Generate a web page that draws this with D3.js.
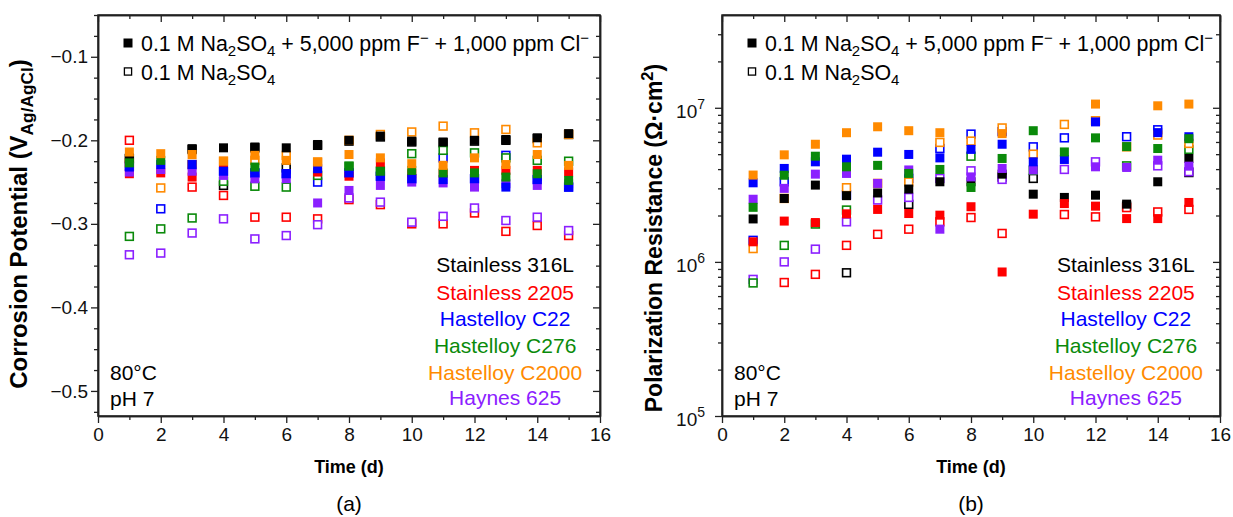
<!DOCTYPE html>
<html>
<head>
<meta charset="utf-8">
<script src="https://cdn.jsdelivr.net/npm/d3@7"></script>
<style>
  body { margin: 0; background: #fff; }
  svg text { font-family: "Liberation Sans", Arial, Helvetica, sans-serif; }
</style>
</head>
<body>
<svg id="fig" width="1233" height="517"></svg>
<script>
// ---- data ----
const days = [1, 2, 3, 4, 5, 6, 7, 8, 9, 10, 11, 12, 13, 14, 15];
const alloys = ["Stainless 316L", "Stainless 2205", "Hastelloy C22", "Hastelloy C276", "Hastelloy C2000", "Haynes 625"];
const alloyColors = ["#000000", "#ff0000", "#0000ff", "#0a8a0a", "#ff8a00", "#8b20ff"];

// corrosion potential (V vs Ag/AgCl), rows follow `alloys`
// filled: 0.1 M Na2SO4 + 5,000 ppm F- + 1,000 ppm Cl-
const ecorrMixed = [
  [-0.221, null, -0.210, -0.209, -0.208, -0.209, -0.205, -0.200, -0.195, -0.201, -0.202, -0.200, -0.199, -0.197, -0.192],
  [-0.240, -0.239, -0.244, -0.230, null, null, -0.238, -0.243, -0.227, -0.240, -0.240, -0.236, -0.236, -0.236, -0.238],
  [-0.232, -0.229, -0.229, -0.237, -0.239, -0.240, -0.234, -0.239, -0.243, -0.246, -0.247, -0.246, -0.256, -0.247, -0.256],
  [-0.227, -0.224, null, null, -0.232, null, null, -0.231, -0.237, -0.236, -0.239, -0.239, -0.244, -0.240, -0.248],
  [-0.214, -0.216, -0.217, -0.225, -0.218, -0.224, -0.226, -0.217, -0.221, -0.228, -0.230, -0.221, -0.229, -0.217, -0.230],
  [-0.238, -0.235, -0.237, -0.242, -0.246, -0.246, -0.275, -0.260, -0.254, -0.250, -0.251, -0.256, -0.252, -0.254, -0.252]
];
// open: 0.1 M Na2SO4
const ecorrSulfate = [
  [-0.222, null, -0.211, -0.254, -0.209, -0.233, -0.206, -0.201, -0.196, -0.202, -0.203, -0.201, -0.200, -0.198, -0.193],
  [-0.200, null, -0.256, -0.266, -0.292, -0.292, -0.294, -0.271, -0.277, -0.300, -0.300, -0.287, -0.309, -0.302, -0.314],
  [-0.231, -0.282, -0.229, -0.237, -0.239, -0.240, -0.250, -0.239, -0.243, -0.246, -0.221, -0.246, -0.218, -0.247, -0.256],
  [-0.315, -0.306, -0.293, -0.249, -0.255, -0.256, -0.242, -0.231, -0.237, -0.216, -0.212, -0.215, -0.221, -0.224, -0.225],
  [-0.227, -0.257, -0.229, -0.225, -0.224, -0.218, -0.226, -0.200, -0.193, -0.190, -0.183, -0.191, -0.187, -0.203, -0.193],
  [-0.337, -0.335, -0.311, -0.294, -0.318, -0.314, -0.301, -0.269, -0.274, -0.298, -0.291, -0.281, -0.296, -0.292, -0.308]
];

// polarization resistance (ohm cm2)
const rpMixed = [
  [1.90e6, 2.58e6, 3.15e6, 2.69e6, 2.80e6, 2.97e6, 3.31e6, 3.31e6, 3.71e6, 2.75e6, 2.62e6, 2.71e6, 2.37e6, 3.31e6, 4.69e6],
  [1.35e6, 1.84e6, 1.80e6, 2.05e6, 2.19e6, 2.06e6, 2.01e6, 2.28e6, 8.6e5, 2.04e6, 2.39e6, 2.30e6, 1.91e6, 1.91e6, 2.43e6],
  [3.26e6, 4.04e6, 4.46e6, 4.64e6, 5.15e6, 4.98e6, 4.73e6, 5.37e6, 5.80e6, 4.46e6, 4.62e6, 8.10e6, null, 6.90e6, 6.49e6],
  [2.26e6, 3.65e6, 4.85e6, 4.14e6, 4.23e6, 3.75e6, 3.98e6, 3.04e6, 4.69e6, 7.10e6, 5.17e6, 6.38e6, 5.60e6, 5.44e6, 6.30e6],
  [3.66e6, 4.95e6, 5.80e6, 6.89e6, 7.53e6, 7.10e6, 6.89e6, null, 6.80e6, null, null, 1.057e7, null, 1.03e7, 1.057e7],
  [2.55e6, 3.00e6, 3.71e6, 3.75e6, 3.23e6, 3.95e6, 1.63e6, 3.56e6, 4.04e6, 3.95e6, null, 4.14e6, 4.10e6, 4.57e6, 4.18e6]
];
const rpSulfate = [
  [null, null, null, 8.5e5, null, 2.36e6, null, null, 3.55e6, 3.48e6, null, null, 2.30e6, null, 3.80e6],
  [null, 7.35e5, 8.3e5, 1.28e6, 1.51e6, 1.63e6, 1.82e6, 1.94e6, 1.53e6, null, 2.03e6, 1.96e6, 2.25e6, 2.11e6, 2.19e6],
  [1.38e6, 3.31e6, null, 2.72e6, null, 3.48e6, 5.44e6, 6.75e6, 7.00e6, 5.58e6, 6.38e6, null, 6.49e6, 7.20e6, null],
  [7.3e5, 1.28e6, 1.76e6, 2.17e6, null, null, null, 4.85e6, null, 3.93e6, null, null, 4.20e6, null, 5.37e6],
  [1.22e6, 2.58e6, null, 3.03e6, 3.23e6, 3.30e6, 5.96e6, 6.08e6, 7.40e6, 5.00e6, 7.80e6, 8.24e6, 5.58e6, 6.65e6, 5.87e6],
  [7.7e5, 1.00e6, 1.21e6, 1.82e6, 2.52e6, 2.62e6, 3.48e6, 3.90e6, 3.43e6, null, 3.98e6, 4.46e6, null, 4.20e6, 3.85e6]
];

const xTicks = [0, 2, 4, 6, 8, 10, 12, 14, 16];
const xMinorTicks = [1, 3, 5, 7, 9, 11, 13, 15];
const ecorrTicks = [-0.5, -0.4, -0.3, -0.2, -0.1];
const ecorrMinorTicks = [-0.525, -0.475, -0.45, -0.425, -0.375, -0.35, -0.325, -0.275, -0.25, -0.225, -0.175, -0.15, -0.125, -0.075, -0.05];
const rpTicks = [1e5, 1e6, 1e7];
const rpMinorTicks = [2e5, 3e5, 4e5, 5e5, 6e5, 7e5, 8e5, 9e5, 2e6, 3e6, 4e6, 5e6, 6e6, 7e6, 8e6, 9e6, 2e7, 3e7];

// ---- drawing ----
const svg = d3.select("#fig");
const plotTop = 15, plotBottom = 416;
const axisColor = "#222";
const drawOrder = [0, 1, 5, 2, 3, 4];

function rich(sel, parts, small, sub, sup) {
  // parts: [text, "n" | "sub" | "sup"]
  let shift = 0;
  parts.forEach(([t, kind]) => {
    const target = kind === "sub" ? sub : kind === "sup" ? -sup : 0;
    const ts = sel.append("tspan").attr("dy", target - shift).text(t);
    if (kind !== "n") ts.style("font-size", small + "px");
    shift = target;
  });
}

function panel(cfg) {
  const g = svg.append("g");
  const x = d3.scaleLinear().domain([0, 16]).range([cfg.left, cfg.right]);
  const y = cfg.y;

  const styleAxis = (a) => {
    a.selectAll("path.domain").attr("stroke", axisColor).attr("stroke-width", 1.5);
    a.selectAll(".tick line").attr("stroke", axisColor).attr("stroke-width", 1.3);
    a.selectAll(".tick text").attr("fill", "#111").style("font-size", "19px")
      .style("font-family", '"Liberation Sans", Arial, sans-serif');
  };

  // bottom
  g.append("g").attr("transform", `translate(0,${plotBottom})`)
    .call(d3.axisBottom(x).tickValues(xTicks).tickSize(7).tickSizeOuter(0).tickPadding(5))
    .call(styleAxis);
  g.append("g").attr("transform", `translate(0,${plotBottom})`)
    .call(d3.axisBottom(x).tickValues(xMinorTicks).tickSize(4).tickSizeOuter(0).tickFormat(""))
    .call(styleAxis);
  // top (ticks inward)
  g.append("g").attr("transform", `translate(0,${plotTop})`)
    .call(d3.axisTop(x).tickValues(xTicks).tickSize(-7).tickSizeOuter(0).tickFormat(""))
    .call(styleAxis);
  g.append("g").attr("transform", `translate(0,${plotTop})`)
    .call(d3.axisTop(x).tickValues(xMinorTicks).tickSize(-4).tickSizeOuter(0).tickFormat(""))
    .call(styleAxis);
  // left
  const yl = g.append("g").attr("transform", `translate(${cfg.left},0)`)
    .call(d3.axisLeft(y).tickValues(cfg.yTicks).tickSize(7).tickSizeOuter(0).tickPadding(cfg.yPad)
      .tickFormat(cfg.yFormat))
    .call(styleAxis);
  g.append("g").attr("transform", `translate(${cfg.left},0)`)
    .call(d3.axisLeft(y).tickValues(cfg.yMinor).tickSize(4).tickSizeOuter(0).tickFormat(""))
    .call(styleAxis);
  // right (ticks inward)
  g.append("g").attr("transform", `translate(${cfg.right},0)`)
    .call(d3.axisRight(y).tickValues(cfg.yTicks).tickSize(-7).tickSizeOuter(0).tickFormat(""))
    .call(styleAxis);
  g.append("g").attr("transform", `translate(${cfg.right},0)`)
    .call(d3.axisRight(y).tickValues(cfg.yMinor).tickSize(-4).tickSizeOuter(0).tickFormat(""))
    .call(styleAxis);
  if (cfg.logLabels) {
    yl.selectAll(".tick text").each(function (d) {
      const t = d3.select(this).text("").attr("dy", "0.5em");
      t.append("tspan").text("10");
      t.append("tspan").attr("dy", -9).style("font-size", "14px").text(Math.round(Math.log10(d)));
    });
  }

  g.append("rect").attr("x", cfg.left).attr("y", plotTop)
    .attr("width", cfg.right - cfg.left).attr("height", plotBottom - plotTop)
    .attr("fill", "none").attr("stroke", axisColor).attr("stroke-width", 1.5);

  // points: open squares first, then filled ones on top
  const pts = (rows, filled) => drawOrder.flatMap(a =>
    rows[a].map((v, i) => ({ day: days[i], v, a, filled })).filter(p => p.v != null));
  const all = pts(cfg.open, false).concat(pts(cfg.filled, true));
  g.append("g").selectAll("rect").data(all).join("rect")
    .attr("x", d => x(d.day) - (d.filled ? 4.5 : 3.9))
    .attr("y", d => y(d.v) - (d.filled ? 4.5 : 3.9))
    .attr("width", d => d.filled ? 9 : 7.8)
    .attr("height", d => d.filled ? 9 : 7.8)
    .attr("fill", d => d.filled ? alloyColors[d.a] : "#fff")
    .attr("stroke", d => d.filled ? "none" : alloyColors[d.a])
    .attr("stroke-width", 1.6);

  // legend
  const lx = cfg.left + 30;
  g.append("rect").attr("x", lx - 4.5).attr("y", 38.5).attr("width", 9).attr("height", 9).attr("fill", "#000");
  g.append("rect").attr("x", lx - 3.6).attr("y", 67.9).attr("width", 7.2).attr("height", 7.2)
    .attr("fill", "#fff").attr("stroke", "#000").attr("stroke-width", 1.3);
  const t1 = g.append("text").attr("x", lx + 13).attr("y", 50.5).style("font-size", "21.4px");
  rich(t1, [["0.1 M Na", "n"], ["2", "sub"], ["SO", "n"], ["4", "sub"], [" + 5,000 ppm F", "n"],
    ["\u2212", "sup"], [" + 1,000 ppm Cl", "n"], ["\u2212", "sup"]], 15, 5, 8);
  const t2 = g.append("text").attr("x", lx + 13).attr("y", 79.5).style("font-size", "21.4px");
  rich(t2, [["0.1 M Na", "n"], ["2", "sub"], ["SO", "n"], ["4", "sub"]], 15, 5, 8);

  // alloy labels
  const cx = cfg.left + (cfg.right - cfg.left) * 0.811;
  const ly = [271.5, 299.5, 325.5, 352.5, 379.5, 404.5];
  alloys.forEach((name, i) => {
    g.append("text").attr("x", cx).attr("y", ly[i]).attr("text-anchor", "middle")
      .attr("fill", alloyColors[i]).style("font-size", "21px").text(name);
  });
  g.append("text").attr("x", cfg.left + 12).attr("y", 379.5).style("font-size", "21px").text("80\u00b0C");
  g.append("text").attr("x", cfg.left + 12).attr("y", 405.5).style("font-size", "21px").text("pH 7");

  // axis titles
  const mid = (cfg.left + cfg.right) / 2;
  g.append("text").attr("x", mid).attr("y", 473).attr("text-anchor", "middle")
    .style("font-size", "18px").style("font-weight", "bold").text("Time (d)");
  g.append("text").attr("x", mid).attr("y", 511).attr("text-anchor", "middle")
    .style("font-size", "21px").text(cfg.tag);
  const yt = g.append("text").attr("transform", `translate(${cfg.titleX},${cfg.titleY}) rotate(-90)`)
    .attr("text-anchor", "middle").style("font-size", cfg.titleSize + "px").style("font-weight", "bold");
  rich(yt, cfg.title, cfg.titleSize * 0.72, 6, 9);
}

panel({
  left: 98, right: 600, tag: "(a)", titleX: 27, titleY: 224, titleSize: 24, yPad: 3,
  y: d3.scaleLinear().domain([-0.53, -0.05]).range([plotBottom, plotTop]),
  yTicks: ecorrTicks, yMinor: ecorrMinorTicks, yFormat: d3.format(".1f"),
  filled: ecorrMixed, open: ecorrSulfate,
  title: [["Corrosion Potential (V", "n"], ["Ag/AgCl", "sub"], [")", "n"]]
});
panel({
  left: 722, right: 1220, tag: "(b)", titleX: 662, titleY: 238, titleSize: 23, yPad: 10, logLabels: true,
  y: d3.scaleLog().domain([1e5, 4e7]).range([plotBottom, plotTop]),
  yTicks: rpTicks, yMinor: rpMinorTicks, yFormat: d3.format("d"),
  filled: rpMixed, open: rpSulfate,
  title: [["Polarization Resistance (\u03a9\u00b7cm", "n"], ["2", "sup"], [")", "n"]]
});
</script>
</body>
</html>
